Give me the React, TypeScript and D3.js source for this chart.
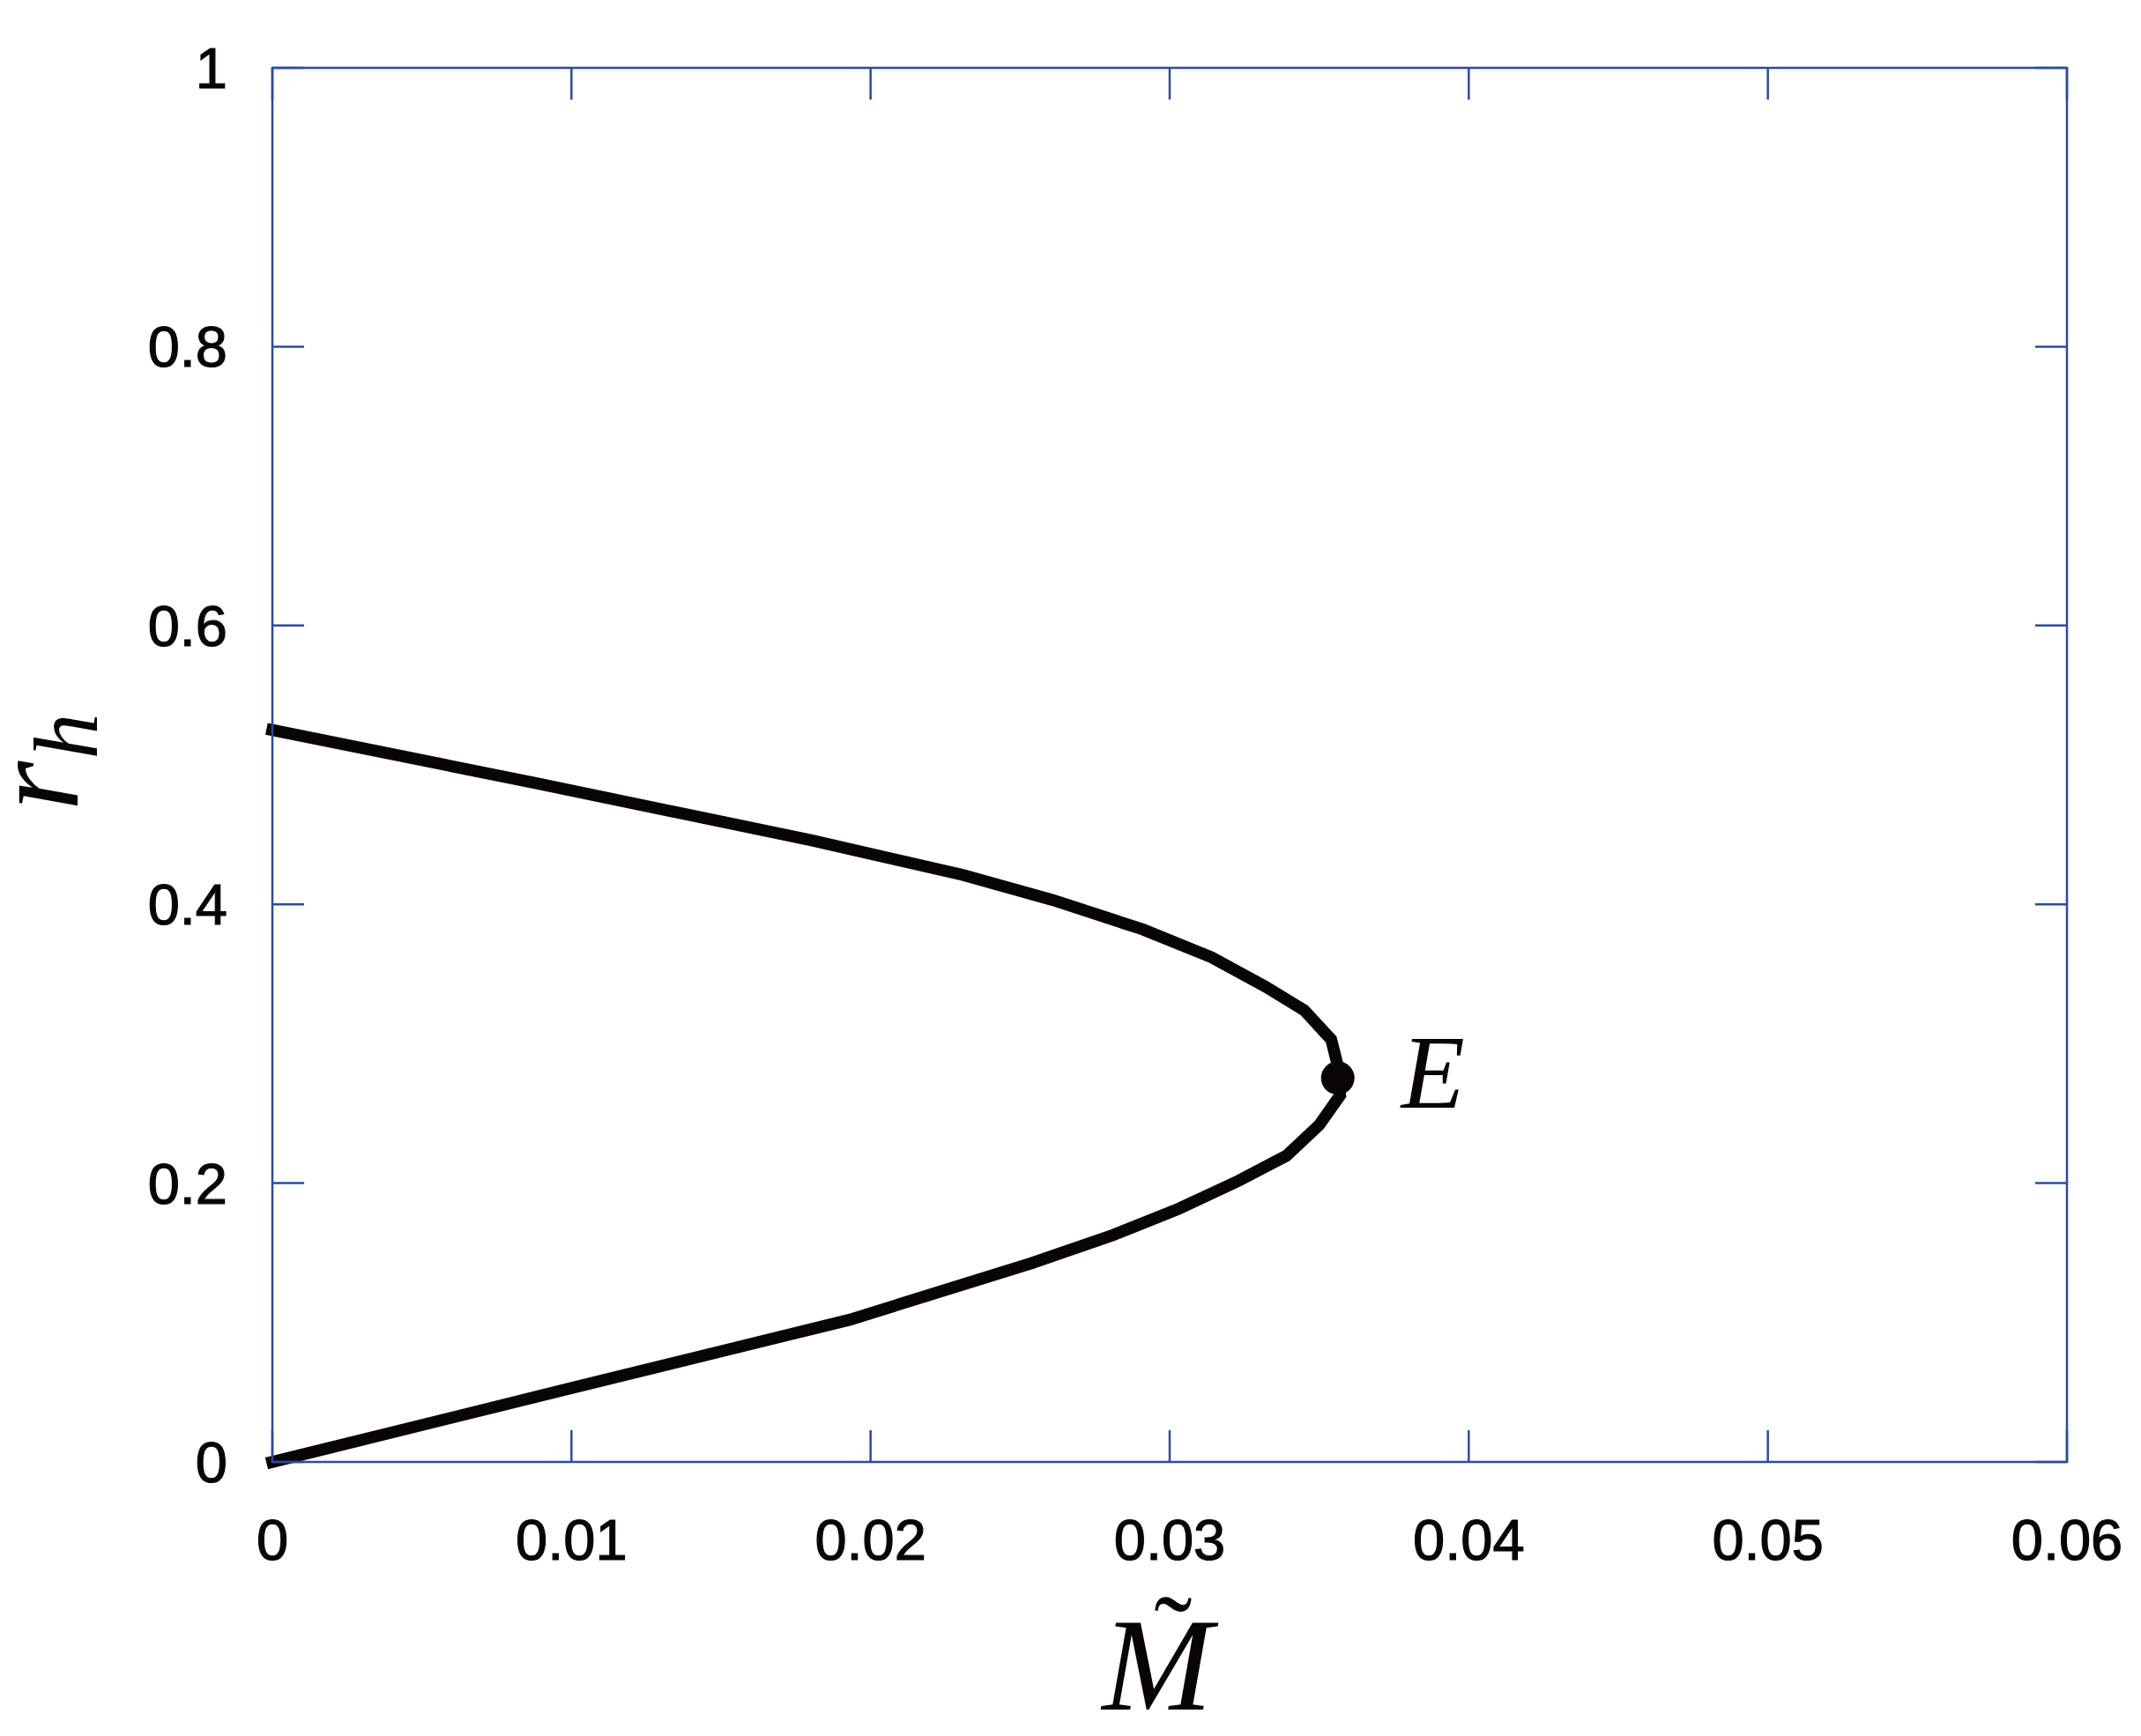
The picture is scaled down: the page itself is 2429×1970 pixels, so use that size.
import * as d3 from "d3";
import { useEffect, useRef } from "react";

const WIDTH = 2429;
const HEIGHT = 1970;
const MARGIN = { top: 77, right: 84, bottom: 311, left: 309 };
const AXIS_COLOR = "#2a4b9f";
const TICK_LEN = 36;

// upper branch, from M = 0 towards the turning point E
const upperM = [0, 0.0088, 0.018, 0.0231, 0.0261, 0.0291, 0.0314, 0.0332, 0.0345, 0.0354, 0.0356];
const upperR = [0.525, 0.487, 0.446, 0.421, 0.403, 0.382, 0.362, 0.341, 0.324, 0.303, 0.286];

// lower branch, from E back down to the origin
const lowerM = [0.0357, 0.035, 0.0339, 0.0323, 0.0303, 0.0281, 0.0254, 0.0193, 0.01, 0];
const lowerR = [0.263, 0.2417, 0.2196, 0.2016, 0.1816, 0.1627, 0.1427, 0.102, 0.053, 0];

const pointE = { m: 0.03562, r: 0.2754 };

const xTicks = [0, 0.01, 0.02, 0.03, 0.04, 0.05, 0.06];
const xTickLabels = ["0", "0.01", "0.02", "0.03", "0.04", "0.05", "0.06"];
const yTicks = [0, 0.2, 0.4, 0.6, 0.8, 1];
const yTickLabels = ["0", "0.2", "0.4", "0.6", "0.8", "1"];

export default function App() {
  const svgRef = useRef<SVGSVGElement | null>(null);

  useEffect(() => {
    const svg = d3.select(svgRef.current);
    svg.selectAll("*").remove();

    const x0 = MARGIN.left;
    const x1 = WIDTH - MARGIN.right;
    const y0 = HEIGHT - MARGIN.bottom;
    const y1 = MARGIN.top;

    const xScale = d3.scaleLinear().domain([0, 0.06]).range([x0, x1]);
    const yScale = d3.scaleLinear().domain([0, 1]).range([y0, y1]);

    // curve: upper branch, point E, lower branch
    const points: [number, number][] = [
      ...upperM.map((m, i) => [m, upperR[i]] as [number, number]),
      [pointE.m, pointE.r],
      ...lowerM.map((m, i) => [m, lowerR[i]] as [number, number]),
    ];
    svg
      .append("path")
      .datum(points)
      .attr("fill", "none")
      .attr("stroke", "#080504")
      .attr("stroke-width", 13.5)
      .attr("stroke-linejoin", "miter")
      .attr("stroke-linecap", "square")
      .attr(
        "d",
        d3
          .line<[number, number]>()
          .x((d) => xScale(d[0]))
          .y((d) => yScale(d[1])),
      );

    // frame
    svg
      .append("rect")
      .attr("x", x0)
      .attr("y", y1)
      .attr("width", x1 - x0)
      .attr("height", y0 - y1)
      .attr("fill", "none")
      .attr("stroke", AXIS_COLOR)
      .attr("stroke-width", 2.5);

    const ticks = svg.append("g").attr("stroke", AXIS_COLOR).attr("stroke-width", 2.5);
    xTicks.forEach((t) => {
      const x = xScale(t);
      ticks.append("line").attr("x1", x).attr("x2", x).attr("y1", y0).attr("y2", y0 - TICK_LEN);
      ticks.append("line").attr("x1", x).attr("x2", x).attr("y1", y1).attr("y2", y1 + TICK_LEN);
    });
    yTicks.forEach((t) => {
      const y = yScale(t);
      ticks.append("line").attr("x1", x0).attr("x2", x0 + TICK_LEN).attr("y1", y).attr("y2", y);
      ticks.append("line").attr("x1", x1).attr("x2", x1 - TICK_LEN).attr("y1", y).attr("y2", y);
    });

    const sans = "'Liberation Sans', Arial, Helvetica, sans-serif";
    svg
      .append("g")
      .selectAll("text")
      .data(xTicks)
      .join("text")
      .attr("x", (d) => xScale(d))
      .attr("y", y0 + 111)
      .attr("text-anchor", "middle")
      .attr("font-family", sans)
      .attr("font-size", 65)
      .attr("fill", "#080504")
      .attr("stroke", "#080504")
      .attr("stroke-width", 1.2)
      .text((d, i) => xTickLabels[i]);

    svg
      .append("g")
      .selectAll("text")
      .data(yTicks)
      .join("text")
      .attr("x", x0 - 51)
      .attr("y", (d) => yScale(d) + 23)
      .attr("text-anchor", "end")
      .attr("font-family", sans)
      .attr("font-size", 65)
      .attr("fill", "#080504")
      .attr("stroke", "#080504")
      .attr("stroke-width", 1.2)
      .text((d, i) => yTickLabels[i]);

    // point E
    svg
      .append("circle")
      .attr("cx", xScale(pointE.m))
      .attr("cy", yScale(pointE.r))
      .attr("r", 19)
      .attr("fill", "#080504");

    const serif = "'Liberation Serif', 'Times New Roman', serif";
    svg
      .append("text")
      .attr("x", xScale(pointE.m) + 72)
      .attr("y", yScale(pointE.r) + 34)
      .attr("font-family", serif)
      .attr("font-style", "italic")
      .attr("font-size", 118)
      .attr("fill", "#080504")
      .text("E");

    // x label: M with tilde
    const cx = (x0 + x1) / 2;
    svg
      .append("text")
      .attr("x", cx - 14)
      .attr("y", 1940)
      .attr("text-anchor", "middle")
      .attr("font-family", serif)
      .attr("font-style", "italic")
      .attr("font-size", 150)
      .attr("fill", "#080504")
      .text("M");
    svg
      .append("text")
      .attr("x", cx + 4)
      .attr("y", 1900)
      .attr("text-anchor", "middle")
      .attr("font-family", serif)
      .attr("font-size", 130)
      .attr("fill", "#080504")
      .text("\u02DC");

    // y label: r_h
    const yl = svg
      .append("text")
      .attr("transform", "translate(88, 920) rotate(-90)")
      .attr("font-family", serif)
      .attr("font-style", "italic")
      .attr("font-size", 145)
      .attr("fill", "#080504");
    yl.append("tspan").text("r");
    yl.append("tspan").attr("dy", 22).attr("dx", 2).attr("font-size", 104).text("h");
  }, []);

  return (
    <svg
      ref={svgRef}
      width={WIDTH}
      height={HEIGHT}
      viewBox={`0 0 ${WIDTH} ${HEIGHT}`}
      style={{ position: "absolute", left: 0, top: 0, background: "#fff" }}
    />
  );
}
